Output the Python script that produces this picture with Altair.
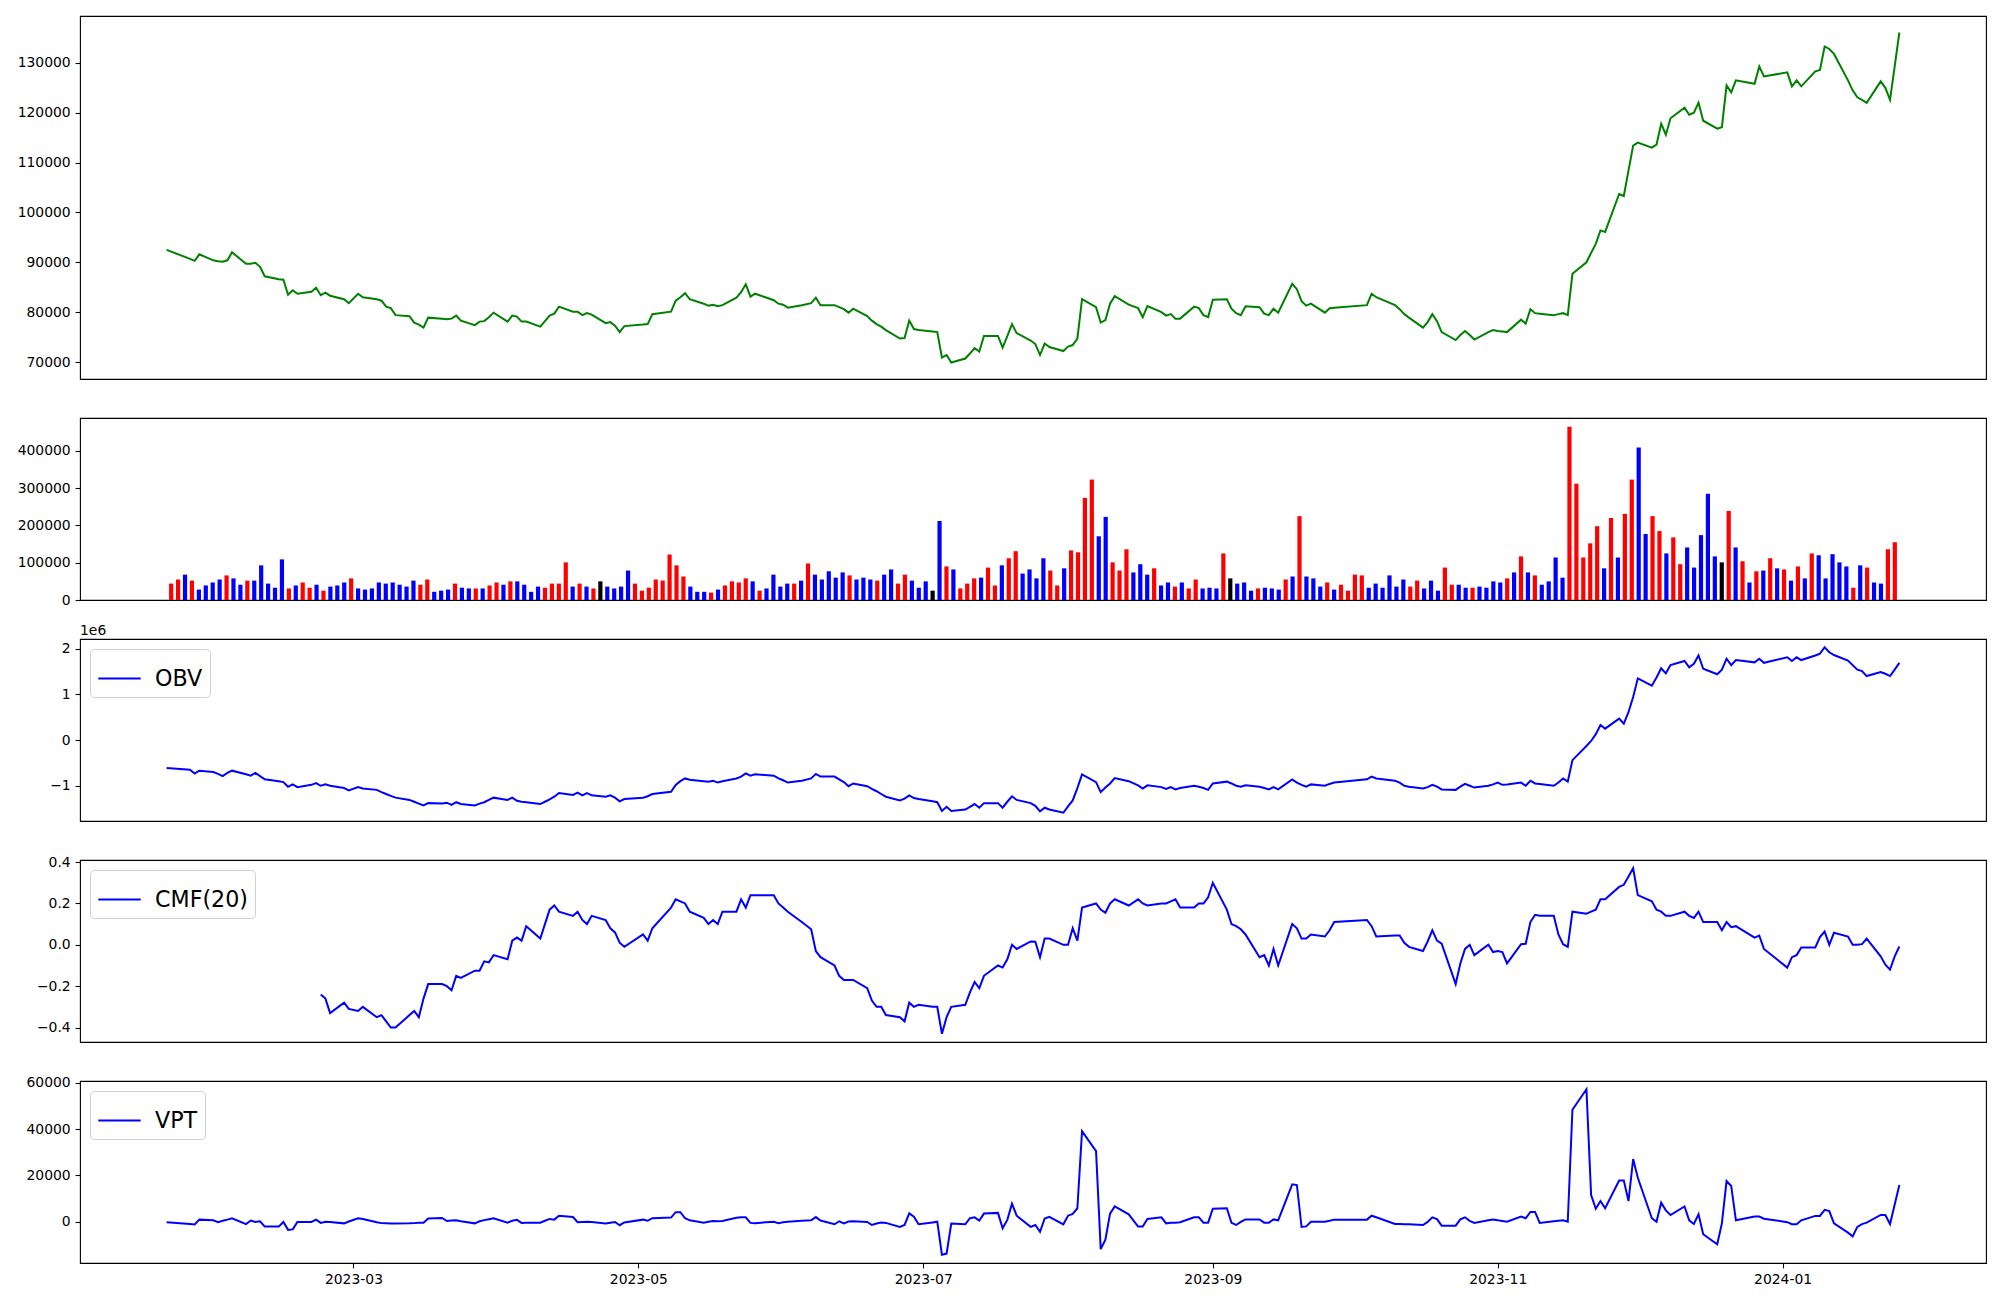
import altair as alt
import pandas as pd

# ---------------- calendar (KRX trading days) ----------------
holidays = ["2023-01-23", "2023-01-24", "2023-03-01", "2023-05-01", "2023-05-05",
            "2023-05-29", "2023-06-06", "2023-08-15", "2023-09-28", "2023-09-29",
            "2023-10-02", "2023-10-03", "2023-10-09", "2023-12-25", "2023-12-29",
            "2024-01-01"]
dates = pd.bdate_range("2023-01-20", "2024-01-26", freq="C", holidays=holidays)

# ---------------- close price ----------------
price = [
    92500, 90700, 90300, 91600, 90400, 90200,
    90100, 90400, 92000, 89700, 89700, 89900, 89100, 87200, 86600, 86500,
    83500, 84400, 83700, 84100, 84900, 83400, 83900, 83300, 82600, 81800,
    83700, 83000, 82600, 82300, 81100, 80800, 79400, 79200, 77900, 77500, 76900,
    78900, 78700, 78600, 78700, 79300, 78300, 77400, 78100, 78200, 79000, 79900,
    78100, 79300, 79100, 78100, 78100, 77100, 78200, 79300, 79700, 81100,
    80100, 80100, 79400, 79800, 79500, 77800, 78000, 77300, 76000, 77200,
    77500, 77600, 79600, 80100, 82300, 83000, 83800, 82600, 81700, 81300,
    81500, 81200, 81400, 82900, 84000, 85600, 83100, 83700, 82400, 81700,
    81500, 80900, 81400, 81800, 82900, 81400, 81400, 81000, 80600, 79900, 80700,
    79200, 78300, 77600, 77100, 76400, 74700, 74800, 78300, 76600, 76400,
    76100, 76000, 70900, 71400, 69900, 70700, 71700, 72800, 72100, 75200, 75200,
    72900, 75200, 77600, 75800, 74300, 73600, 71400, 73700, 73000, 72200,
    73100, 73400, 74700, 82600, 81000, 77900, 78400, 81700, 83200, 81500, 80800,
    79000, 81200, 80000, 79300, 79600, 78700, 78700, 81100, 80800, 79400, 79000,
    82500, 82600, 80700, 79800, 79400, 81200, 81000, 79700, 79400, 80700,
    79900, 85700, 84600, 82200, 81300, 81700, 79900, 80800, 80900,
    81400, 83700, 83000, 81400, 80600, 79600, 78900, 76900, 78000, 79600,
    78200, 76000, 74400, 75400, 76200, 75400, 74500, 76000, 76400,
    76200, 76100, 76000, 78500, 77700, 80600, 79800, 79700, 79400, 79600, 79800,
    79400, 87700, 90000, 91900, 93700, 96400, 96100, 103700, 103300, 108400, 113400,
    114000, 113000, 113600, 117800, 115600, 118900, 121000, 119600, 120000, 122000,
    118400, 116800, 117100, 125500, 124100, 126500, 125800, 129300, 127300,
    128100, 125300, 126500, 125300, 128300, 128600, 133300, 132800, 131800, 126500,
    124500, 123100, 122600, 122000, 126300, 125000, 122600, 129300, 136100,
]

# ---------------- volume (thousands) and bar colour codes ----------------
volume_k = [
    44, 55, 68, 52, 28, 39, 47, 55, 66, 58, 41, 52, 52, 93, 44, 33, 109, 31, 39, 47,
    33, 41, 25, 36, 39, 47, 58, 31, 28, 31, 47, 44, 47, 41, 36, 52, 41, 55, 22, 25,
    28, 44, 33, 31, 31, 31, 39, 47, 41, 50, 50, 41, 22, 36, 33, 44, 44, 101, 36, 44,
    36, 31, 50, 36, 31, 36, 79, 44, 25, 33, 55, 52, 122, 93, 63, 36, 22, 22, 20, 28,
    39, 50, 47, 58, 50, 25, 31, 68, 36, 44, 44, 52, 98, 68, 55, 77, 60, 74, 66, 55,
    60, 55, 52, 68, 82, 44, 68, 52, 33, 50, 25, 212, 90, 82, 31, 44, 58, 60, 87, 39,
    93, 112, 131, 71, 82, 58, 112, 79, 39, 85, 133, 128, 274, 323, 171, 223, 101, 79, 136, 74,
    96, 68, 85, 39, 47, 36, 47, 31, 55, 31, 33, 31, 125, 58, 44, 47, 25, 31, 33, 31,
    28, 55, 63, 225, 63, 58, 36, 47, 28, 41, 25, 68, 66, 33, 44, 33, 66, 36, 55, 36,
    52, 31, 52, 25, 87, 41, 41, 33, 33, 36, 33, 50, 47, 58, 74, 117, 74, 66, 41, 50,
    114, 60, 465, 312, 114, 152, 198, 85, 220, 114, 231, 323, 409, 177, 225, 185, 125, 168, 96, 141,
    87, 174, 285, 117, 101, 239, 141, 104, 47, 77, 79, 112, 85, 82, 52, 90, 58, 125, 120, 58,
    123, 101, 90, 33, 93, 87, 47, 44, 136, 155,
]
vol_codes = (
    "rrbrbbbbrb" "brbbbbbrbr" "rbrbbbrbbb" "bbbbbbrrbb" "brbbrbrrbr" "bbbbrrrrbr"
    "brkbbbbrrr" "rrrrrbbbrb" "rrrrbrbbbb" "rbrbbbbbrb" "bbrbbrrbbb" "kbrbrrrbrr"
    "brrbbbbrrb" "rrrrbbrrrb" "bbrbbrbrrb" "bbrkbbbrbb" "brbrbbbrbr" "rrrbbbbbbr"
    "rbbbrrbbrb" "bbbrbrbrbb" "bbrrrrrbrb" "rrbbrrbrrb" "bbbbkrbrbr" "brbrbrbrbb"
    "bbbrbrbbrr"
)

# ---------------- indicators ----------------
obv_m = [
    -0.61, -0.65, -0.73, -0.67, -0.70, -0.74,
    -0.79, -0.72, -0.67, -0.75, -0.78, -0.72, -0.79, -0.86, -0.90, -0.92,
    -1.02, -0.97, -1.03, -0.98, -0.94, -1.00, -0.97, -1.00, -1.05, -1.10,
    -1.03, -1.06, -1.09, -1.14, -1.18, -1.22, -1.26, -1.31, -1.35, -1.39, -1.43,
    -1.38, -1.39, -1.37, -1.42, -1.36, -1.40, -1.43, -1.39, -1.36, -1.31, -1.26,
    -1.31, -1.26, -1.33, -1.35, -1.36, -1.40, -1.35, -1.30, -1.24, -1.16,
    -1.20, -1.15, -1.21, -1.16, -1.21, -1.24, -1.21, -1.26, -1.34, -1.29,
    -1.26, -1.23, -1.18, -1.13, -0.98, -0.90, -0.84, -0.87, -0.90, -0.91,
    -0.89, -0.93, -0.90, -0.84, -0.80, -0.73, -0.78, -0.75, -0.78, -0.84,
    -0.88, -0.93, -0.89, -0.84, -0.74, -0.80, -0.80, -0.86, -0.92, -1.01, -0.95,
    -1.01, -1.07, -1.12, -1.18, -1.24, -1.32, -1.28, -1.21, -1.27, -1.29,
    -1.34, -1.36, -1.55, -1.46, -1.55, -1.52, -1.46, -1.40, -1.48, -1.38, -1.38,
    -1.48, -1.35, -1.23, -1.31, -1.38, -1.44, -1.56, -1.48, -1.52, -1.59,
    -1.45, -1.32, -1.05, -0.75, -0.92, -1.14, -1.04, -0.95, -0.83, -0.90, -0.99,
    -1.06, -0.99, -1.03, -1.07, -1.03, -1.08, -1.05, -1.00, -1.02, -1.05, -1.09,
    -0.95, -0.91, -0.95, -1.00, -1.02, -0.99, -1.02, -1.05, -1.08, -1.03,
    -1.08, -0.86, -0.93, -0.98, -1.02, -0.97, -1.00, -0.96, -0.93,
    -0.86, -0.80, -0.84, -0.89, -0.93, -1.00, -1.02, -1.06, -1.03, -0.98,
    -1.02, -1.08, -1.09, -1.02, -0.96, -1.00, -1.04, -1.00, -0.97,
    -0.93, -0.98, -0.97, -0.93, -1.00, -0.89, -0.95, -0.96, -1.00, -0.93, -0.84,
    -0.91, -0.44, -0.13, -0.02, 0.13, 0.33, 0.25, 0.47, 0.36, 0.61, 0.94,
    1.35, 1.19, 1.37, 1.57, 1.46, 1.64, 1.73, 1.59, 1.67, 1.85,
    1.56, 1.44, 1.54, 1.78, 1.64, 1.75, 1.70, 1.78, 1.69,
    1.81, 1.73, 1.81, 1.75, 1.85, 1.89, 2.03, 1.92, 1.86, 1.74,
    1.64, 1.54, 1.51, 1.40, 1.49, 1.45, 1.40, 1.54, 1.69,
]

cmf20 = [None] * 21 + [
    -0.24, -0.26, -0.33, -0.28, -0.31,
    -0.32, -0.30, -0.35, -0.34, -0.37, -0.40, -0.40, -0.34, -0.32, -0.35, -0.26,
    -0.19, -0.19, -0.20, -0.22, -0.15, -0.16, -0.125, -0.125, -0.08, -0.085, -0.05,
    -0.07, 0.02, 0.035, 0.02, 0.09, 0.03, 0.10, 0.17, 0.19, 0.16,
    0.14, 0.16, 0.12, 0.10, 0.14, 0.12, 0.08, 0.06, 0.01, -0.01,
    0.05, 0.02, 0.08, 0.18, 0.22, 0.21, 0.20, 0.16, 0.13, 0.10,
    0.12, 0.10, 0.16, 0.16, 0.22, 0.18, 0.24, 0.24, 0.24, 0.20,
    0.18, 0.16, 0.11, 0.075, -0.03, -0.06, -0.10, -0.15, -0.17, -0.17, -0.17,
    -0.21, -0.27, -0.30, -0.30, -0.34, -0.35, -0.37, -0.28, -0.30, -0.29,
    -0.30, -0.30, -0.43, -0.35, -0.30, -0.29, -0.23, -0.18, -0.21, -0.15, -0.10,
    -0.11, -0.07, 0.00, -0.02, 0.016, 0.015, -0.06, 0.03, 0.03, 0.00,
    0.00, 0.08, 0.02, 0.18, 0.20, 0.17, 0.155, 0.20, 0.22, 0.19, 0.22,
    0.20, 0.19, 0.20, 0.20, 0.21, 0.22, 0.18, 0.18, 0.20, 0.20, 0.23,
    0.30, 0.17, 0.10, 0.09, 0.075, 0.05, -0.06, -0.05, -0.10, -0.02,
    -0.10, 0.10, 0.08, 0.03, 0.03, 0.05, 0.04, 0.07, 0.11,
    0.12, 0.09, 0.04, 0.045, 0.045, 0.01, -0.01, -0.03, 0.016, 0.07,
    0.02, 0.006, -0.19, -0.09, -0.02, 0.00, -0.05, 0.00, -0.035,
    -0.03, -0.035, -0.09, 0.003, 0.005, 0.11, 0.145, 0.14, 0.14, 0.05, 0.003,
    -0.01, 0.16, 0.15, 0.16, 0.17, 0.22, 0.22, 0.28, 0.29, 0.33, 0.37,
    0.24, 0.21, 0.17, 0.16, 0.14, 0.14, 0.16, 0.14, 0.13, 0.16,
    0.11, 0.11, 0.07, 0.11, 0.085, 0.09, 0.035, 0.045, -0.02,
    -0.11, -0.06, -0.05, -0.013, -0.013, 0.037, 0.064, 0.0, 0.058, 0.04,
    0.0, 0.0, 0.003, 0.03, -0.056, -0.096, -0.12, -0.056, -0.008,
]

vpt = [
    -100, -900, -1100, 1000, 700, -100,
    500, 1000, 1600, -900, 600, 0, 300, -2000, -2000, 0,
    -3400, -3200, 0, 0, 1000, -400, 100, 0, -600, 200,
    1600, 1300, -100, -500, -600, -700, -700, -600, -500, -300, -300,
    1500, 1700, 400, 600, 700, 300, -600, 300, 800, 1200, 1600,
    -300, 500, 900, -400, -300, -300, 500, 1300, 1000, 2700,
    2100, -100, 0, 100, 0, -700, -300, 0, -1400, -200,
    1000, 500, 1600, 1900, 4200, 4200, 1600, 700, -300, 100,
    400, 300, 400, 1800, 2000, 2000, -400, -500, 100, -500,
    -100, 100, 500, 700, 2100, 600, -1000, 300, -600, 200, 300,
    0, -1300, -700, -200, -400, -2100, -1300, 3700, 2300, -1000,
    -200, 100, -14100, -13600, -700, -1000, 1600, 2000, 600, 3600, 3900,
    -2700, 900, 7900, 2700, -2100, -1300, -4200, 1500, 2200, -1000,
    2700, 3500, 5900, 39100, 30500, -11700, -7600, 3600, 6700, 3300, -2000,
    -2000, 1300, 2000, -600, -300, -300, -100, 2000, 2000, -300, -300,
    5700, 5900, -400, -1300, 0, 1100, 1100, -300, -300, 1100,
    700, 16200, 15900, -2100, -1900, 100, 100, 500, 1000,
    1000, 2700, 2000, -900, -900, -1000, -1000, -1300, 0, 2000,
    1200, -1600, -1600, 1100, 2000, 500, -400, 700, 1100,
    700, 400, 100, 2300, 1600, 4300, 4300, -400, 300, 500, 700,
    100, 48300, 57100, 11600, 5700, 9000, 5900, 17800, 17800, 9000, 27100,
    19000, 1600, 100, 8300, 5000, 3000, 6700, 700, -900, 3300,
    -5300, -9600, -600, 17600, 15500, 700, 2300, 2300, 1400,
    -100, -1000, -1000, 700, 2600, 2600, 5200, 4700, -600, -4600,
    -6200, -2100, -900, -300, 3000, 3000, -900, 7500, 15900,
]

n = len(dates)
for nm, arr in [("price", price), ("volume", volume_k), ("codes", vol_codes),
                ("obv", obv_m), ("cmf", cmf20), ("vpt", vpt)]:
    assert len(arr) == n, (nm, len(arr), n)

COLORS = {"r": "#ff0000", "b": "#0000ff", "k": "#000000"}
FONT = "DejaVu Sans"
W = 1906


def pad(lo, hi, m=0.05):
    r = hi - lo
    return [lo - m * r, hi + m * r]


def dt(ts):
    return alt.DateTime(year=int(ts.year), month=int(ts.month), date=int(ts.day),
                        hours=int(ts.hour), minutes=int(ts.minute), seconds=int(ts.second))


span = dates[-1] - dates[0]
xdom = [dt(dates[0] - span * 0.05), dt(dates[-1] + span * 0.05)]

df = pd.DataFrame({"date": dates, "price": price, "obv": obv_m, "cmf": cmf20, "vpt": vpt})

# ---------------- price panel ----------------
price_chart = alt.Chart(df).mark_line(color="#008000", strokeWidth=2).encode(
    x=alt.X("date:T", scale=alt.Scale(domain=xdom), axis=None),
    y=alt.Y("price:Q", scale=alt.Scale(domain=pad(min(price), max(price)), nice=False, zero=False),
            axis=alt.Axis(values=list(range(70000, 130001, 10000)), format="d", title=None)),
).properties(width=W, height=363)

# ---------------- volume panel (bars at trading-day index) ----------------
vdf = pd.DataFrame({"i": list(range(n)), "vol": [v * 1000 for v in volume_k],
                    "c": [COLORS[c] for c in vol_codes]})
vol_chart = alt.Chart(vdf).mark_bar(size=4.2).encode(
    x=alt.X("i:Q", scale=alt.Scale(domain=pad(0, n - 1), nice=False, zero=False), axis=None),
    y=alt.Y("vol:Q", scale=alt.Scale(domain=[0, vdf["vol"].max() * 1.05], nice=False),
            axis=alt.Axis(values=[0, 100000, 200000, 300000, 400000], format="d", title=None)),
    color=alt.Color("c:N", scale=None),
).properties(width=W, height=182)


def indicator(col, label, ticks, fmt, xaxis, height):
    d = df[["date", col]].dropna().assign(series=label)
    lo, hi = float(d[col].min()), float(d[col].max())
    return alt.Chart(d).mark_line(strokeWidth=2).encode(
        x=alt.X("date:T", scale=alt.Scale(domain=xdom), axis=xaxis),
        y=alt.Y(f"{col}:Q", scale=alt.Scale(domain=pad(lo, hi), nice=False, zero=False),
                axis=alt.Axis(values=ticks, format=fmt, title=None)),
        color=alt.Color("series:N", scale=alt.Scale(domain=[label], range=["#0000ff"]),
                        legend=alt.Legend(title=None, orient="top-left", offset=10,
                                          fillColor="white", strokeColor="#d0d0d0",
                                          cornerRadius=4, padding=7,
                                          labelFont=FONT, labelFontSize=22.2,
                                          labelColor="black", labelOffset=13,
                                          symbolType="stroke", symbolSize=1800,
                                          symbolStrokeWidth=2)),
    ).properties(width=W, height=height)


obv_line = indicator("obv", "OBV", [-1, 0, 1, 2], "d", None, 182)
offset_text = alt.Chart(pd.DataFrame({"t": ["1e6"]})).mark_text(
    align="left", baseline="alphabetic", font=FONT, fontSize=13.9, color="black"
).encode(x=alt.value(0), y=alt.value(-4), text="t:N")
obv_chart = alt.layer(obv_line, offset_text)

cmf_chart = indicator("cmf", "CMF(20)", [-0.4, -0.2, 0.0, 0.2, 0.4], ".1f", None, 182)

tick_dates = [dt(pd.Timestamp(s)) for s in
              ["2023-03-01", "2023-05-01", "2023-07-01", "2023-09-01", "2023-11-01", "2024-01-01"]]
vpt_chart = indicator("vpt", "VPT", [0, 20000, 40000, 60000], "d",
                      alt.Axis(values=tick_dates, format="%Y-%m", title=None, labelFlush=False,
                               labelOverlap=False), 182)

chart = alt.vconcat(
    price_chart, vol_chart, obv_chart, cmf_chart, vpt_chart, spacing=39, bounds="flush"
).resolve_scale(
    x="independent", y="independent", color="independent"
).resolve_legend(color="independent").properties(
    padding={"left": 8, "top": 7, "right": 5, "bottom": 5}, background="white"
).configure_view(
    stroke="black", strokeWidth=1.1
).configure_axis(
    domain=False, grid=False, labelFont=FONT, labelFontSize=13.9, labelColor="black",
    tickColor="black", tickSize=4.9, tickWidth=1.1, labelPadding=4.9
)

chart.save("out.html", embed_options={"renderer": "svg", "actions": False})
